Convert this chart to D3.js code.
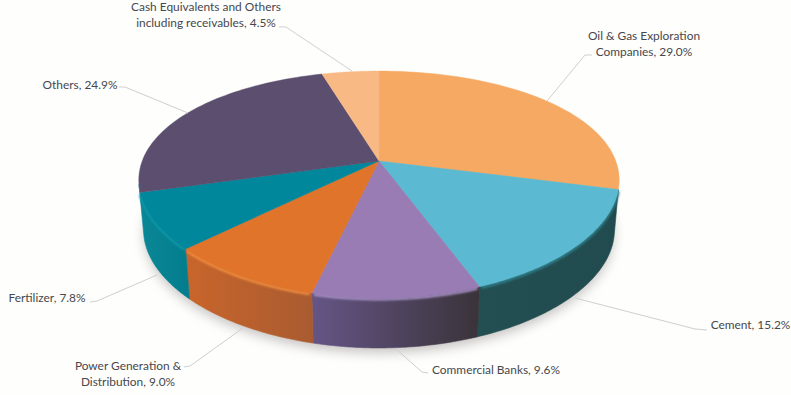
<!DOCTYPE html>
<html>
<head>
<meta charset="utf-8">
<script src="https://cdn.jsdelivr.net/npm/d3@7/dist/d3.min.js"></script>
<style>
html,body{margin:0;padding:0;background:#fefefd;}
svg{display:block;}
text{font-family:Lato,"Open Sans",sans-serif;font-size:11.9px;fill:#47474c;}
</style>
</head>
<body>
<div id="chart"></div>
<script>
// Sector allocation, clockwise from twelve o'clock
const categories = ["Oil & Gas Exploration Companies","Cement","Commercial Banks","Power Generation & Distribution","Fertilizer","Others","Cash Equivalents and Others including receivables"];
const shares = [29.0,15.2,9.6,9.0,7.8,24.9,4.5];
const topColors = ["#f6a962","#5bbad1","#9a7cb5","#e0742a","#00879c","#5b4e6e","#f8b985"];
const wallStops = [
  null,
  ["#234f52","#214b4e"],
  ["#655586","#3a3339"],
  ["#c9652b","#a95b30"],
  ["#0a8796","#037d8d"],
  null,
  null
];
const bevelColors = [null,"#2f7d88","#a68ec4","#f08c3e","#0f96a8",null,null];
const labelLines = [
  ["Oil & Gas Exploration","Companies, 29.0%"],
  ["Cement, 15.2%"],
  ["Commercial Banks, 9.6%"],
  ["Power Generation &","Distribution, 9.0%"],
  ["Fertilizer, 7.8%"],
  ["Others, 24.9%"],
  ["Cash Equivalents and Others","including receivables, 4.5%"]
];

const width = 791, height = 395;
const hub = {x:379, y:161};
const radiusX = 236.8, radiusY = 108.6, tilt = 0.207, depth = 50;
const lineStep = 15.5;

// Perspective view of the unit disc: the near edge is drawn larger,
// and the underside is a little narrower than the top face
const project = (angle, drop = 0) => {
  const u = Math.sin(angle), v = -Math.cos(angle), w = 1 - tilt * v;
  const taper = 1 - 0.02 * drop / depth;
  return [hub.x + taper * radiusX * u / Math.pow(w, 0.81), hub.y + radiusY * v / w + drop];
};

const arcs = d3.pie().sort(null).value(d => d)(shares);
const line = d3.line();
const rim = (a0, a1, drop = 0) => d3.range(0, 61).map(i => project(a0 + (a1 - a0) * i / 60, drop));

const svg = d3.select("#chart").append("svg").attr("width", width).attr("height", height);
const defs = svg.append("defs");
defs.append("filter").attr("id", "soft").attr("x", "-20%").attr("y", "-20%").attr("width", "140%").attr("height", "140%")
  .append("feGaussianBlur").attr("stdDeviation", 6);
defs.append("filter").attr("id", "edge").attr("x", "-5%").attr("y", "-5%").attr("width", "110%").attr("height", "110%")
  .append("feGaussianBlur").attr("stdDeviation", 1.2);
const grads = defs.selectAll("linearGradient").data(arcs.filter((d, i) => wallStops[i])).join("linearGradient")
  .attr("id", d => "wall" + d.index).attr("gradientUnits", "objectBoundingBox")
  .attr("x1", 0).attr("x2", 1).attr("y1", 0).attr("y2", 0);
grads.append("stop").attr("offset", 0).attr("stop-color", d => wallStops[d.index][0]);
grads.append("stop").attr("offset", 1).attr("stop-color", d => wallStops[d.index][1]);

// Ground shadow under the disc
svg.append("path")
  .attr("d", line(rim(0, 2 * Math.PI, depth + 5)) + "Z")
  .attr("fill", "#8d8a88").attr("opacity", 0.5).attr("filter", "url(#soft)");

// Outer walls; the first and last run on to the silhouette points of the lower rim
const frontStart = Math.PI / 2 + Math.asin(tilt), frontEnd = 3 * Math.PI / 2 - Math.asin(tilt);
const walled = arcs.filter(d => wallStops[d.index]);
const walls = svg.append("g");
walled.forEach((d, i) => {
  const last = i === walled.length - 1;
  const top0 = d.startAngle, top1 = last ? frontEnd : d.endAngle;
  const low0 = i === 0 ? frontStart : d.startAngle;
  walls.append("path")
    .attr("d", line(rim(top0, top1).concat(rim(top1, low0, depth))) + "Z")
    .attr("fill", `url(#wall${d.index})`)
    .attr("stroke", `url(#wall${d.index})`).attr("stroke-width", 0.6);
});

// Soft band where the wall meets the top face
const bevel = svg.append("g").attr("filter", "url(#edge)");
walled.forEach(d => {
  bevel.append("path")
    .attr("d", line(rim(d.startAngle + 0.008, d.endAngle - 0.008, 1)))
    .attr("fill", "none").attr("stroke", bevelColors[d.index]).attr("stroke-width", 3);
});

// Top face
const facePath = d => line([[hub.x, hub.y]].concat(rim(d.startAngle, d.endAngle))) + "Z";
svg.append("g").selectAll("path").data(arcs).join("path")
  .attr("d", facePath)
  .attr("fill", d => topColors[d.index])
  .attr("stroke", d => topColors[d.index]).attr("stroke-width", 0.4);

// Leader lines
const leaders = [
  [[592,55],[585,55],[547,101]],
  [[707,330],[695,329],[575,298]],
  [[428,373],[422,372],[396,349]],
  [[184,367],[190,366],[243,328]],
  [[90,302],[97,301],[157,275]],
  [[119,87],[125,87],[188,113]],
  [[279,27],[286,27],[352,71]]
];
svg.append("g").selectAll("path").data(leaders).join("path")
  .attr("d", d => line(d))
  .attr("fill", "none").attr("stroke", "#cfcfcf").attr("stroke-width", 1);

// Labels
const anchors = [[644,40],[750.5,329],[496,374],[128,370],[47,302],[80,89],[206,11]];
const labels = svg.append("g").attr("text-anchor", "middle");
labelLines.forEach((rows, i) => {
  rows.forEach((row, j) => {
    labels.append("text").attr("x", anchors[i][0]).attr("y", anchors[i][1] + j * lineStep).text(row);
  });
});
</script>
</body>
</html>
